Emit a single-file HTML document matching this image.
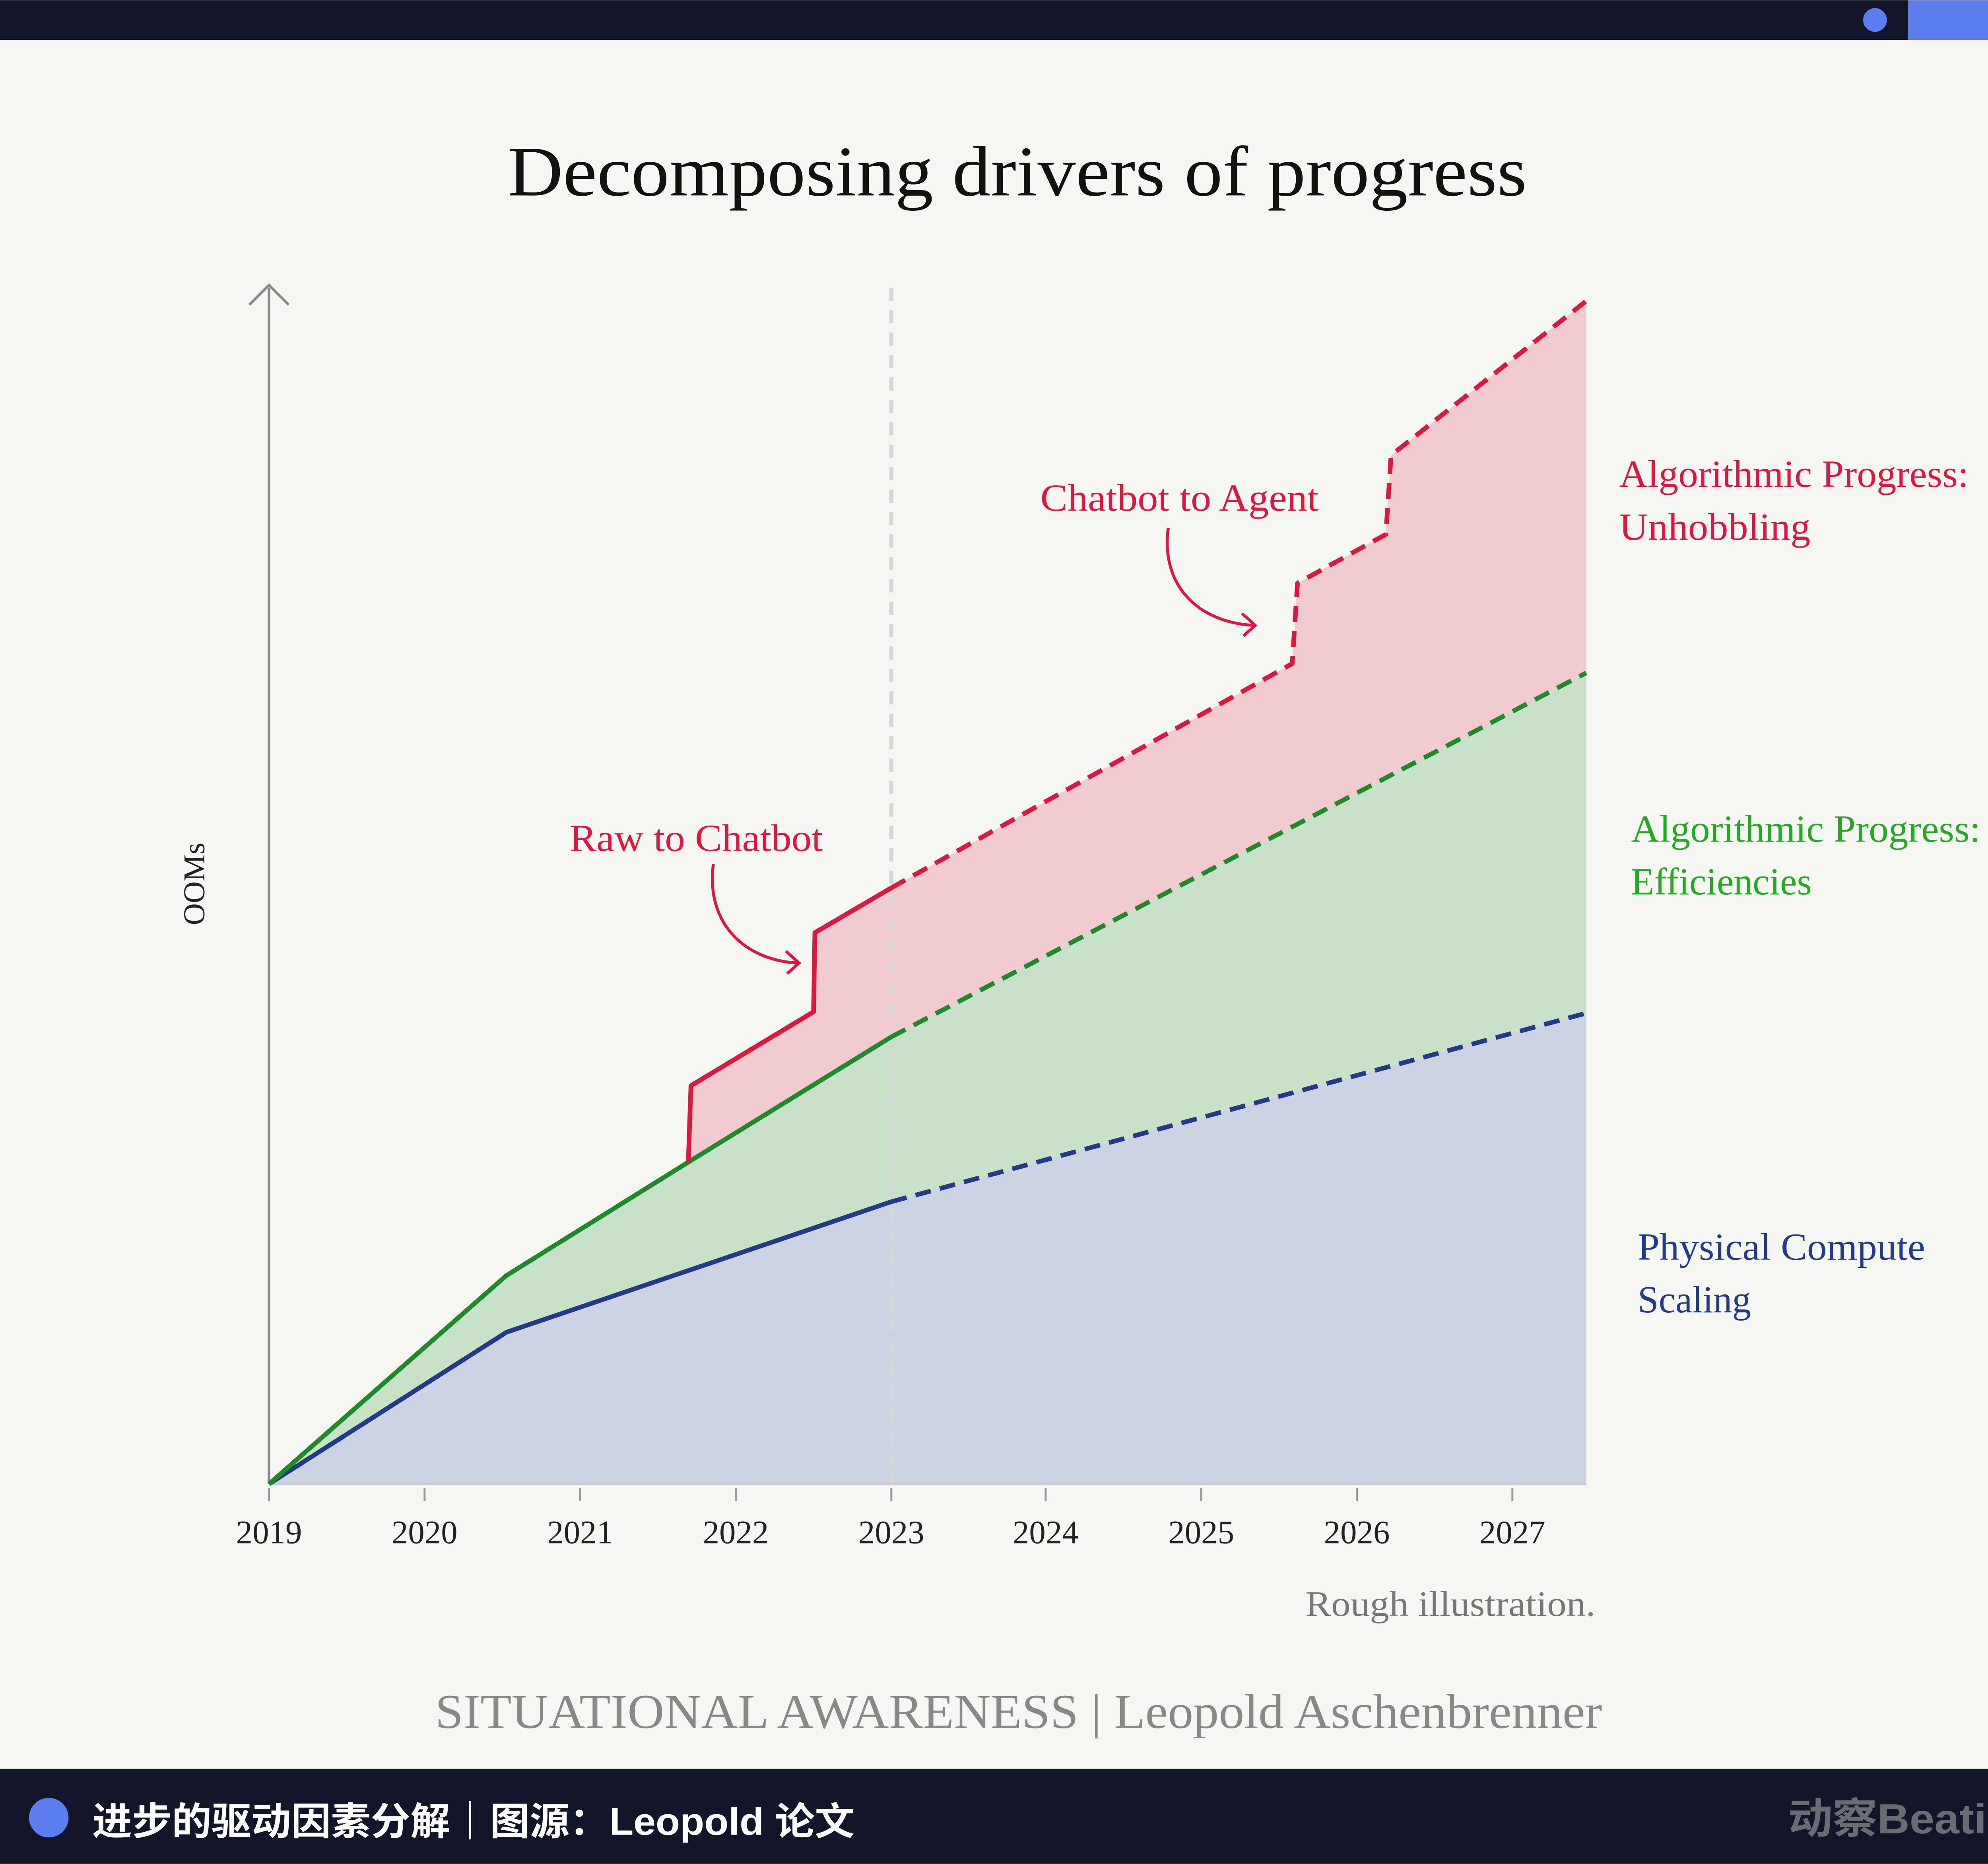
<!DOCTYPE html>
<html><head><meta charset="utf-8"><style>
html,body{margin:0;padding:0;width:5200px;height:4687px;overflow:hidden;background:#f6f7f2}
svg{display:block}
</style></head><body>
<svg width="5200" height="4687" viewBox="0 0 1568 1413" xmlns="http://www.w3.org/2000/svg">
<rect width="1568" height="1413" fill="#f6f7f2"/>
<rect width="1568" height="30" fill="#13162a"/>
<circle cx="1422" cy="15" r="9" fill="#5b7df0"/>
<rect x="1447" y="0" width="103" height="30" fill="#5b7df0"/>
<text x="385" y="148" textLength="773" lengthAdjust="spacingAndGlyphs" font-family="Liberation Serif, serif" font-size="54" fill="#111">Decomposing drivers of progress</text>
<polygon points="204,1125 384,1010 676,911 1203,768 1203,1125" fill="#ccd3e2"/>
<polygon points="204,1125 384,967 522,881 676,786 1203,510 1203,768 676,911 384,1010" fill="#c9e0c9"/>
<polygon points="522,881 524,823 617,767 618,707 676,673 980,503 984,442 1051,405 1055,345 1203,228 1203,510 676,786" fill="#f0cbd0"/>
<line x1="676" y1="218" x2="676" y2="1125" stroke="#d6d6d6" stroke-width="3" stroke-dasharray="10,7"/>
<line x1="204" y1="218" x2="204" y2="1125" stroke="#888" stroke-width="2"/>
<polyline points="189,231 204,216 219,231" fill="none" stroke="#888" stroke-width="2"/>
<line x1="204" y1="1125" x2="1203" y2="1125" stroke="#c8cbd6" stroke-width="2"/>
<g stroke="#999" stroke-width="1.5">
<line x1="204" y1="1128" x2="204" y2="1138"/><line x1="322" y1="1128" x2="322" y2="1138"/><line x1="440" y1="1128" x2="440" y2="1138"/><line x1="558" y1="1128" x2="558" y2="1138"/><line x1="676" y1="1128" x2="676" y2="1138"/><line x1="793" y1="1128" x2="793" y2="1138"/><line x1="911" y1="1128" x2="911" y2="1138"/><line x1="1029" y1="1128" x2="1029" y2="1138"/><line x1="1147" y1="1128" x2="1147" y2="1138"/>
</g>
<g font-family="Liberation Serif, serif" font-size="25" fill="#222" text-anchor="middle">
<text x="204" y="1170">2019</text><text x="322" y="1170">2020</text><text x="440" y="1170">2021</text><text x="558" y="1170">2022</text><text x="676" y="1170">2023</text><text x="793" y="1170">2024</text><text x="911" y="1170">2025</text><text x="1029" y="1170">2026</text><text x="1147" y="1170">2027</text>
</g>
<g fill="none" stroke-width="3.5" stroke-linejoin="round">
<polyline points="204,1125 384,1010 676,911" stroke="#233a8a"/>
<polyline points="676,911 1203,768" stroke="#233a8a" stroke-dasharray="12,7"/>
<polyline points="204,1125 384,967 522,881 676,786" stroke="#1e8a2a"/>
<polyline points="676,786 1203,510" stroke="#1e8a2a" stroke-dasharray="12,7"/>
<polyline points="522,881 524,823 617,767 618,707 676,673" stroke="#e0163f"/>
<polyline points="676,673 980,503 984,442 1051,405 1055,345 1203,228" stroke="#e0163f" stroke-dasharray="12,7"/>
</g>
<g font-family="Liberation Serif, serif" font-size="29" lengthAdjust="spacingAndGlyphs">
<text x="432" y="645" textLength="192" lengthAdjust="spacingAndGlyphs" fill="#e0163f">Raw to Chatbot</text>
<text x="789" y="387" textLength="211" lengthAdjust="spacingAndGlyphs" fill="#e0163f">Chatbot to Agent</text>
<text x="1228" y="369" textLength="265" lengthAdjust="spacingAndGlyphs" fill="#e0163f">Algorithmic Progress:</text>
<text x="1228" y="409" textLength="145" lengthAdjust="spacingAndGlyphs" fill="#e0163f">Unhobbling</text>
<text x="1237" y="638" textLength="265" lengthAdjust="spacingAndGlyphs" fill="#22aa22">Algorithmic Progress:</text>
<text x="1237" y="678" textLength="137" lengthAdjust="spacingAndGlyphs" fill="#22aa22">Efficiencies</text>
<text x="1242" y="955" textLength="218" lengthAdjust="spacingAndGlyphs" fill="#233a8a">Physical Compute</text>
<text x="1242" y="995" textLength="86" lengthAdjust="spacingAndGlyphs" fill="#233a8a">Scaling</text>
</g>
<g fill="none" stroke="#e0163f" stroke-width="2.2">
<path d="M541,655 C535,700 565,728 605,730"/>
<polyline points="596,721 606,730 597,738"/>
<path d="M886,400 C880,445 910,472 951,474"/>
<polyline points="942,465 952,474 943,482"/>
</g>
<text transform="translate(155,670) rotate(-90)" text-anchor="middle" font-family="Liberation Serif, serif" font-size="23" fill="#222">OOMs</text>
<text x="990" y="1225" textLength="220" lengthAdjust="spacingAndGlyphs" font-family="Liberation Serif, serif" font-size="27" fill="#777">Rough illustration.</text>
<text x="330" y="1310" textLength="885" lengthAdjust="spacingAndGlyphs" font-family="Liberation Serif, serif" font-size="37" fill="#888">SITUATIONAL AWARENESS | Leopold Aschenbrenner</text>
<rect x="0" y="1341" width="1568" height="72" fill="#13162a"/>
<circle cx="37" cy="1378" r="15" fill="#5b7df0"/>
<text x="70" y="1391" textLength="578" lengthAdjust="spacingAndGlyphs" font-family="Liberation Sans, Noto Sans CJK SC, sans-serif" font-weight="bold" font-size="29" fill="#fff">进步的驱动因素分解｜图源：Leopold 论文</text>
<text x="1356" y="1390" textLength="192" lengthAdjust="spacingAndGlyphs" font-family="Liberation Sans, Noto Sans CJK SC, sans-serif" font-weight="bold" font-size="32" fill="#6a6c74">动察Beating</text>
</svg>
</body></html>
